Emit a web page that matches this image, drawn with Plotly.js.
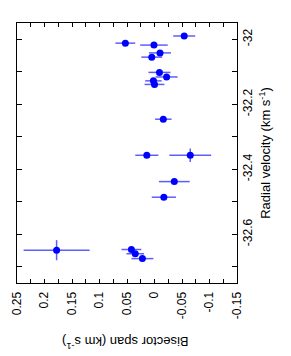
<!DOCTYPE html>
<html>
<head>
<meta charset="utf-8">
<script src="https://cdn.plot.ly/plotly-3.0.1.min.js"></script>
<style>html,body{margin:0;padding:0;background:#fff;}#chart{width:291px;height:356px;}</style>
</head>
<body>
<div id="chart"></div>
<script>
// Radial velocity (km/s) and bisector span (km/s) with uncertainties
const radialVelocity = [-31.990, -32.012, -32.018, -32.042, -32.055, -32.102, -32.116, -32.128, -32.139, -32.246, -32.357, -32.357, -32.438, -32.486, -32.649, -32.647, -32.660, -32.675];
const radialVelocityErr = [0.003, 0.003, 0.009, 0.003, 0.003, 0.003, 0.003, 0.003, 0.003, 0.003, 0.003, 0.021, 0.004, 0.003, 0.031, 0.003, 0.003, 0.003];
const bisectorSpan = [-0.054, 0.053, 0.001, -0.010, 0.005, -0.009, -0.022, 0.002, 0.000, -0.016, 0.014, -0.065, -0.036, -0.017, 0.178, 0.042, 0.035, 0.022];
const bisectorSpanErr = [0.020, 0.018, 0.025, 0.020, 0.019, 0.020, 0.020, 0.015, 0.018, 0.015, 0.021, 0.038, 0.028, 0.022, 0.060, 0.018, 0.016, 0.020];
const spanTicks = [0.25, 0.2, 0.15, 0.1, 0.05, 0, -0.05, -0.1, -0.15];
const spanTickText = ['0.25', '0.2', '0.15', '0.1', '0.05', '0', '-0.05', '-0.1', '-0.15'];
const rvTicks = [-32, -32.2, -32.4, -32.6];
const rvTickText = ['-32', '-32.2', '-32.4', '-32.6'];

const trace = {
  type: 'scatter',
  mode: 'markers',
  x: bisectorSpan,
  y: radialVelocity,
  error_x: {type: 'data', array: bisectorSpanErr, visible: true, color: 'rgba(40,40,255,0.75)', thickness: 1.5, width: 0},
  error_y: {type: 'data', array: radialVelocityErr, visible: true, color: 'rgba(40,40,255,0.75)', thickness: 1.5, width: 0},
  marker: {color: '#0000ff', size: 7},
  hoverinfo: 'none'
};

const font = {family: 'Liberation Sans, Arial, sans-serif', size: 12, color: '#000'};

const layout = {
  width: 291,
  height: 356,
  margin: {l: 17, r: 54, t: 23, b: 73},
  paper_bgcolor: '#fff',
  plot_bgcolor: '#fff',
  showlegend: false,
  font: font,
  xaxis: {
    range: [0.25, -0.15],
    tickmode: 'array',
    tickvals: spanTicks,
    ticktext: spanTickText,
    tickangle: -90,
    ticks: 'inside',
    ticklen: 4,
    tickwidth: 1,
    tickcolor: '#000',
    minor: {dtick: 0.025, tick0: 0, ticks: 'inside', ticklen: 4, tickcolor: '#000', showgrid: false},
    showgrid: false,
    zeroline: false,
    showline: true,
    linecolor: '#000',
    linewidth: 1,
    mirror: 'ticks',
    tickfont: font,
    ticklabelstandoff: 3
  },
  yaxis: {
    side: 'right',
    range: [-32.75, -31.95],
    tickmode: 'array',
    tickvals: rvTicks,
    ticktext: rvTickText,
    tickangle: -90,
    ticks: 'inside',
    ticklen: 5,
    tickwidth: 1,
    tickcolor: '#000',
    minor: {dtick: 0.1, tick0: -32, ticks: 'inside', ticklen: 5, tickcolor: '#000', showgrid: false},
    showgrid: false,
    zeroline: false,
    showline: true,
    linecolor: '#000',
    linewidth: 1,
    mirror: 'ticks',
    tickfont: font,
    title: {text: 'Radial velocity (km s<sup>-1</sup>)', font: {family: font.family, size: 13, color: '#000'}, standoff: 6}
  },
  annotations: [{
    text: 'Bisector span (km s<sup>-1</sup>)',
    xref: 'paper', yref: 'paper',
    x: 0.49, y: -0.23,
    xanchor: 'center', yanchor: 'middle',
    textangle: 180,
    showarrow: false,
    font: {family: font.family, size: 13, color: '#000'}
  }]
};

Plotly.newPlot('chart', [trace], layout, {staticPlot: true, displayModeBar: false});
</script>
</body>
</html>
